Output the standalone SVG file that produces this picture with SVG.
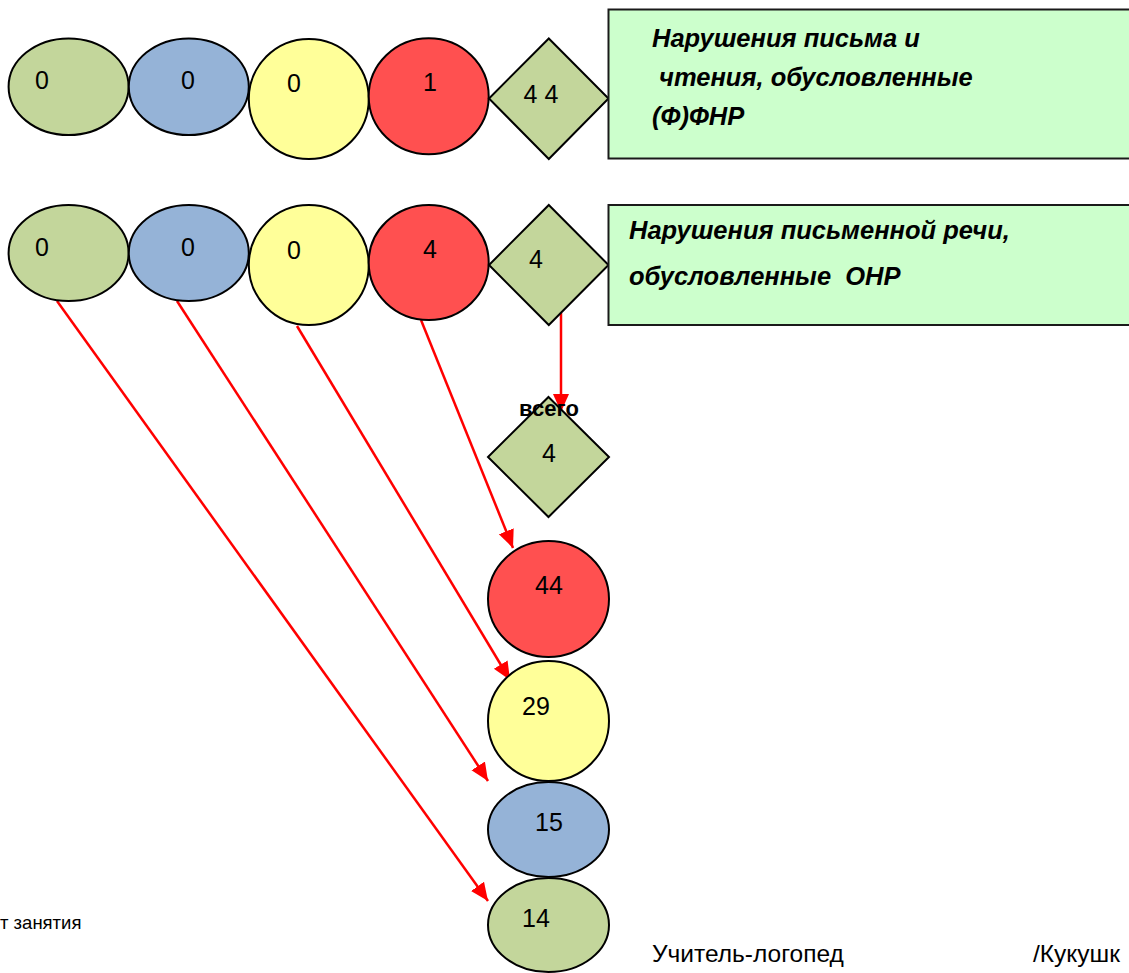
<svg xmlns="http://www.w3.org/2000/svg" width="1129" height="973" viewBox="0 0 1129 973">
<style>
.sh{stroke:#000;stroke-width:2}
.g{fill:#C3D69B}.b{fill:#95B3D7}.y{fill:#FFFF99}.r{fill:#FF5050}
.box{fill:#CCFFCC;stroke:#1a1a1a;stroke-width:2}
.num{font-family:"Liberation Sans",Arial,sans-serif;font-size:25px;fill:#000;text-anchor:middle}
.lbl{font-family:"Liberation Sans",Arial,sans-serif;font-size:25.5px;font-weight:bold;font-style:italic;fill:#000}
.foot{font-family:"Liberation Sans",Arial,sans-serif;font-size:24.5px;fill:#000}
.con{stroke:#FF0000;stroke-width:2.5;fill:none;marker-end:url(#ah)}
</style>
<defs>
<marker id="ah" markerUnits="userSpaceOnUse" markerWidth="20" markerHeight="18" refX="18" refY="8" orient="auto">
<path d="M0,0 L18,8 L0,16 z" fill="#FF0000"/>
</marker>
</defs>
<rect width="1129" height="973" fill="#fff"/>
<g id="connectors">
<line class="con" x1="561" y1="313" x2="561" y2="412"/>
<line class="con" x1="421" y1="320" x2="513" y2="548"/>
<line class="con" x1="297" y1="326" x2="510" y2="680"/>
<line class="con" x1="177" y1="301" x2="488" y2="781"/>
<line class="con" x1="57" y1="301" x2="488" y2="901"/>
</g>
<g id="r1-green"><ellipse class="sh g" cx="68.6" cy="86.7" rx="60" ry="48.3"/><text class="num" x="42" y="89">0</text></g>
<g id="r1-blue"><ellipse class="sh b" cx="188.8" cy="86.7" rx="60" ry="48.3"/><text class="num" x="188" y="89">0</text></g>
<g id="r1-yellow"><ellipse class="sh y" cx="308.8" cy="99" rx="60" ry="60"/><text class="num" x="294" y="92">0</text></g>
<g id="r1-red"><ellipse class="sh r" cx="428.7" cy="96.2" rx="60" ry="58"/><text class="num" x="430" y="91">1</text></g>
<g id="r1-diamond"><polygon class="sh g" points="548.8,38.5 608.5,98.5 548.8,159 489,98.5"/><text class="num" x="541" y="103">4 4</text></g>
<g id="box1"><rect class="box" x="608.5" y="9.5" width="530" height="149"/>
<text class="lbl" x="652" y="47">Нарушения письма и</text>
<text class="lbl" x="652" y="86" xml:space="preserve"> чтения, обусловленные</text>
<text class="lbl" x="652" y="125">(Ф)ФНР</text></g>
<g id="r2-green"><ellipse class="sh g" cx="68.6" cy="253" rx="60" ry="48"/><text class="num" x="42" y="256">0</text></g>
<g id="r2-blue"><ellipse class="sh b" cx="188.8" cy="253" rx="60" ry="48"/><text class="num" x="188" y="256">0</text></g>
<g id="r2-yellow"><ellipse class="sh y" cx="308.8" cy="265" rx="60" ry="60"/><text class="num" x="294" y="259">0</text></g>
<g id="r2-red"><ellipse class="sh r" cx="428.7" cy="262.5" rx="60" ry="57.5"/><text class="num" x="430" y="258">4</text></g>
<g id="r2-diamond"><polygon class="sh g" points="548.8,205 608.5,265 548.8,325 489,265"/><text class="num" x="536" y="268">4</text></g>
<g id="box2"><rect class="box" x="608.5" y="205" width="530" height="120"/>
<text class="lbl" x="629" y="239">Нарушения письменной речи,</text>
<text class="lbl" x="629" y="285" xml:space="preserve">обусловленные  ОНР</text></g>
<g id="total"><polygon class="sh g" points="548.5,397 609,457 548.5,517 488,457"/>
<text class="num" x="549" y="462">4</text>
<text x="549" y="416" font-family="Liberation Sans,Arial,sans-serif" font-size="22" font-weight="bold" text-anchor="middle">всего</text></g>
<g id="b-red"><ellipse class="sh r" cx="548.5" cy="599" rx="60.5" ry="58"/><text class="num" x="549" y="594">44</text></g>
<g id="b-yellow"><ellipse class="sh y" cx="548.5" cy="721" rx="60.5" ry="60"/><text class="num" x="536" y="715">29</text></g>
<g id="b-blue"><ellipse class="sh b" cx="548.5" cy="829.5" rx="60.5" ry="47.5"/><text class="num" x="549" y="831">15</text></g>
<g id="b-green"><ellipse class="sh g" cx="548.5" cy="925" rx="60.5" ry="47"/><text class="num" x="536" y="927">14</text></g>
<text x="0" y="929" font-family="Liberation Sans,Arial,sans-serif" font-size="18.5">т занятия</text>
<text class="foot" x="652" y="962">Учитель-логопед</text>
<text class="foot" x="1033" y="962">/Кукушк</text>
</svg>
